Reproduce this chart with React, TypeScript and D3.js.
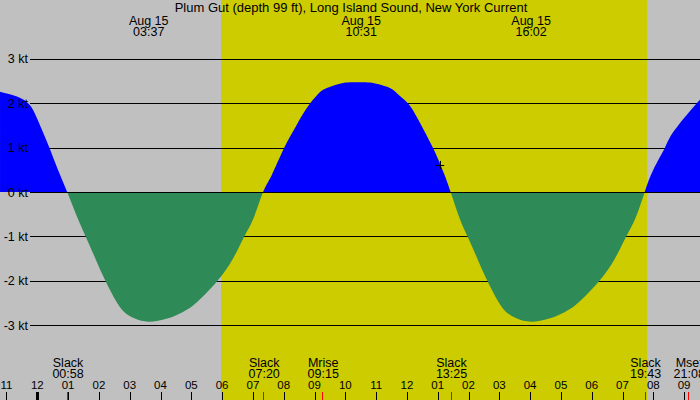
import React from "react";
import * as d3 from "d3";

// ---- data (hours from midnight, Aug 15; current in knots) ----
const title = "Plum Gut (depth 99 ft), Long Island Sound, New York Current";
const curveHours = [
  -1.21, -0.66, -0.3, -0.08, 0.15, 0.39, 0.67, 0.97,
  1.31, 1.57, 1.88, 2.21, 2.55, 2.82, 3.17, 3.62, 4.22, 4.73, 5.2, 5.85, 6.36, 6.72, 7.02, 7.33,
  7.61, 8.02, 8.42, 8.75, 9.11, 9.4, 9.93, 10.42, 10.9, 11.45, 11.71, 12.03, 12.32, 12.84, 13.2, 13.42,
  13.71, 13.97, 14.28, 14.61, 14.95, 15.22, 15.57, 16.03, 16.62, 17.13, 17.6, 18.25, 18.76, 19.12, 19.42, 19.72,
  20.0, 20.38, 20.7, 21.41, 21.52,
];
const curveKnots = [
  2.26, 2.15, 2.0, 1.77, 1.4, 1.0, 0.5, 0,
  -0.59, -1.0, -1.49, -2.0, -2.45, -2.7, -2.85, -2.92, -2.85, -2.7, -2.47, -2.0, -1.49, -1.0, -0.59, 0,
  0.38, 1.0, 1.51, 1.89, 2.2, 2.34, 2.455, 2.47, 2.455, 2.34, 2.2, 2.0, 1.69, 1.0, 0.42, 0,
  -0.59, -1.0, -1.49, -2.0, -2.45, -2.7, -2.85, -2.92, -2.85, -2.7, -2.47, -2.0, -1.49, -1.0, -0.59, 0,
  0.5, 1.0, 1.4, 2.0, 2.06,
];
const yTicks = [3, 2, 1, 0, -1, -2, -3];
const hourTicks = [-1, 0, 1, 2, 3, 4, 5, 6, 7, 8, 9, 10, 11, 12, 13, 14, 15, 16, 17, 18, 19, 20, 21];
const hourLabels = ["11", "12", "01", "02", "03", "04", "05", "06", "07", "08", "09", "10", "11", "12", "01", "02", "03", "04", "05", "06", "07", "08", "09"];
const eventNames = ["Slack", "Slack", "Mrise", "Slack", "Slack", "Mset"];
const eventTimes = ["00:58", "07:20", "09:15", "13:25", "19:43", "21:08"];
const peakDates = ["Aug 15", "Aug 15", "Aug 15"];
const peakTimes = ["03:37", "10:31", "16:02"];
const sunrise = "05:58";
const sunset = "19:48";
const markerTime = "13:04";
const markerKnots = 0.61;

const toH = (s: string) => {
  const [h, m] = s.split(":").map(Number);
  return h + m / 60;
};

const W = 700;
const H = 400;
const FONT = "'Liberation Sans', Arial, sans-serif";

export default function App() {
  const x = d3.scaleLinear().domain([-1.211, 21.516]).range([0, W]);
  const y = d3.scaleLinear().domain([-3, 3]).range([325.2, 58.8]);
  const pts = curveHours.map((h, i) => [h, curveKnots[i]] as [number, number]);
  const area = d3
    .area<[number, number]>()
    .x((d) => x(d[0]))
    .y0(y(0))
    .y1((d) => y(d[1]))
    .curve(d3.curveNatural);
  const path = area(pts) || "";
  const y0 = Math.round(y(0));
  const mx = x(toH(markerTime));
  const my = y(markerKnots);
  return (
    <svg
      width={W}
      height={H}
      style={{ position: "fixed", left: 0, top: 0, display: "block" }}
      fontFamily={FONT}
    >
      <defs>
        <clipPath id="pos">
          <rect x={0} y={0} width={W} height={y0} />
        </clipPath>
        <clipPath id="neg">
          <rect x={0} y={y0 + 1} width={W} height={H - y0} />
        </clipPath>
      </defs>
      <rect x={0} y={0} width={W} height={H} fill="#c0c0c0" />
      <rect
        x={x(toH(sunrise))}
        y={0}
        width={x(toH(sunset)) - x(toH(sunrise))}
        height={H}
        fill="#cccc00"
      />
      {yTicks.map((t) => (
        <line key={t} x1={30} x2={W} y1={Math.round(y(t)) + 0.5} y2={Math.round(y(t)) + 0.5} stroke="#000" strokeWidth={1} />
      ))}
      <path d={path} fill="#0000ff" clipPath="url(#pos)" />
      <path d={path} fill="#2e8b57" clipPath="url(#neg)" />
      {yTicks.map((t) => (
        <text key={t} x={28} y={y(t) + 4.5} textAnchor="end" fontSize={12.5} fill="#000">
          {`${t} kt`}
        </text>
      ))}
      <text x={351} y={12} textAnchor="middle" fontSize={13}>
        {title}
      </text>
      {peakTimes.map((t, i) => (
        <g key={i}>
          <text x={x(toH(t))} y={25} textAnchor="middle" fontSize={12.5}>
            {peakDates[i]}
          </text>
          <text x={x(toH(t))} y={36} textAnchor="middle" fontSize={12.5}>
            {t}
          </text>
        </g>
      ))}
      {hourTicks.map((h, i) => (
        <g key={i}>
          <line
            x1={Math.round(x(h)) + 0.5}
            x2={Math.round(x(h)) + 0.5}
            y1={392}
            y2={H}
            stroke="#000"
            strokeWidth={h === 0 ? 3 : 1}
          />
          <text x={x(h)} y={389} textAnchor="middle" fontSize={11.5}>
            {hourLabels[i]}
          </text>
        </g>
      ))}
      {eventTimes.map((t, i) => (
        <g key={i}>
          <line
            x1={Math.round(x(toH(t))) + 0.5}
            x2={Math.round(x(toH(t))) + 0.5}
            y1={392}
            y2={H}
            stroke="#ff0000"
          />
          <text x={x(toH(t)) + 1} y={366.5} textAnchor="middle" fontSize={12.5}>
            {eventNames[i]}
          </text>
          <text x={x(toH(t)) + 1} y={377.5} textAnchor="middle" fontSize={12.5}>
            {t}
          </text>
        </g>
      ))}
      <line x1={mx - 4.5} x2={mx + 4.5} y1={Math.round(my) + 0.5} y2={Math.round(my) + 0.5} stroke="#000" />
      <line x1={Math.round(mx) + 0.5} x2={Math.round(mx) + 0.5} y1={my - 4} y2={my + 4} stroke="#000" />
    </svg>
  );
}
